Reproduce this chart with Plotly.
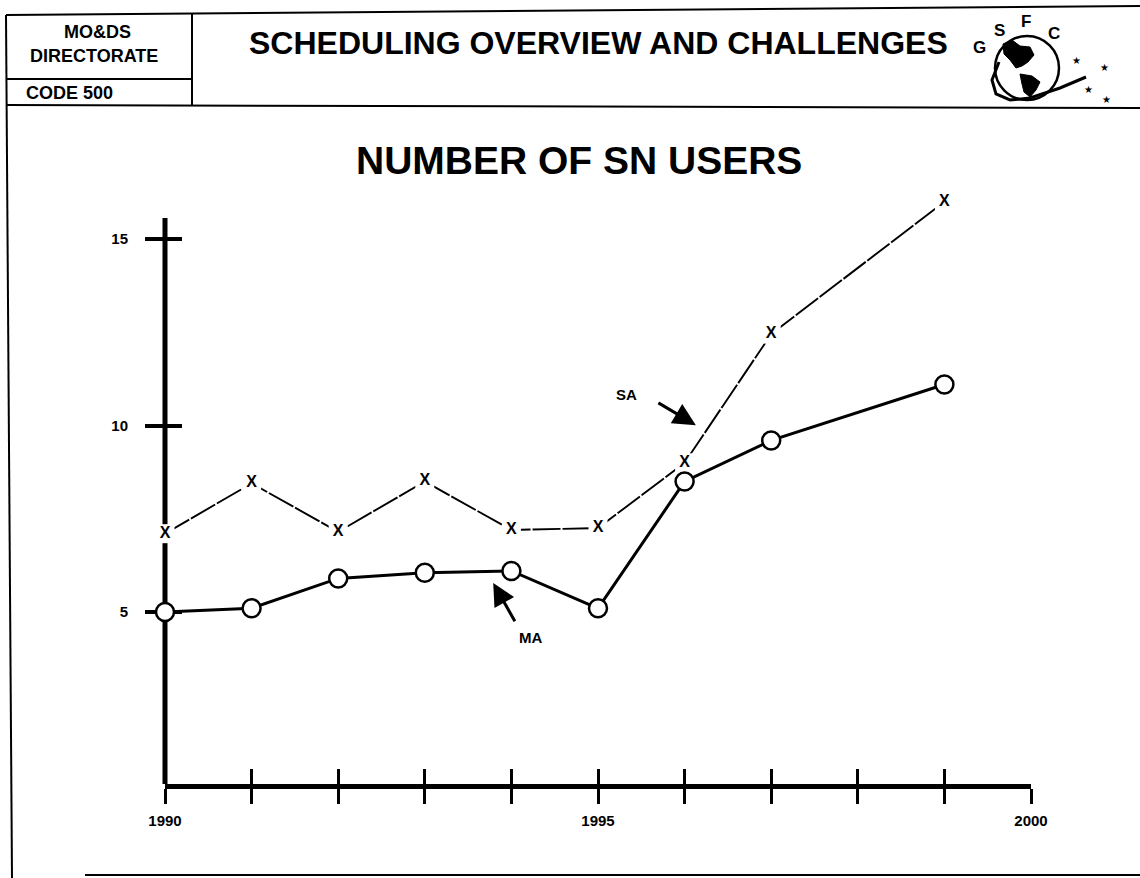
import plotly.graph_objects as go

# ---------------- data ----------------
ma_years = [1990, 1991, 1992, 1993, 1994, 1995, 1996, 1997, 1999]
ma_users = [5.0, 5.1, 5.9, 6.05, 6.1, 5.1, 8.5, 9.6, 11.1]
sa_years = [1990, 1991, 1992, 1993, 1994, 1995, 1996, 1997, 1999]
sa_users = [7.1, 8.45, 7.15, 8.5, 7.2, 7.25, 9.0, 12.45, 16.0]
x_tickvals = [1990, 1991, 1992, 1993, 1994, 1995, 1996, 1997, 1998, 1999, 2000]
x_ticktext = ["1990", "", "", "", "", "1995", "", "", "", "", "2000"]
y_tickvals = [5, 10, 15]
y_ticktext = ["5", "10", "15"]
y_axis_top = 15.563   # where the drawn vertical axis stops

FONT = "Liberation Sans, Arial, Helvetica, sans-serif"
W, H = 1140, 878
L, R, T, B = 165, 1031, 190, 784
PW, PH = R - L, B - T
Y_RANGE = [0.389, 16.314]
X_RANGE = [1990, 2000]


def px(x):
    return (x - L) / PW


def py(y):
    return (B - y) / PH


fig = go.Figure()

# SA dashed line
fig.add_trace(go.Scatter(x=sa_years, y=sa_users, mode="lines",
                         line=dict(color="black", width=1.9, dash="28px,2px"),
                         cliponaxis=False, hoverinfo="skip", showlegend=False))
# white gaps around the X marks
fig.add_trace(go.Scatter(x=sa_years, y=sa_users, mode="markers",
                         marker=dict(symbol="square", size=19, color="white", line=dict(width=0)),
                         cliponaxis=False, hoverinfo="skip", showlegend=False))
# MA solid line with open circles
fig.add_trace(go.Scatter(x=ma_years, y=ma_users, mode="lines+markers",
                         line=dict(color="black", width=3),
                         marker=dict(symbol="circle", size=18, color="white",
                                     line=dict(color="black", width=2.5)),
                         cliponaxis=False, hoverinfo="skip", showlegend=False))
# SA X marks
fig.add_trace(go.Scatter(x=sa_years, y=sa_users, mode="text", text=["X"] * len(sa_years),
                         textposition="middle center",
                         textfont=dict(family=FONT, size=16, color="black", weight="bold"),
                         cliponaxis=False, hoverinfo="skip", showlegend=False))
# empty traces so the overlay axes (inner half of the crossing ticks) get drawn
fig.add_trace(go.Scatter(x=[None], y=[None], xaxis="x2", yaxis="y", hoverinfo="skip",
                         showlegend=False))
fig.add_trace(go.Scatter(x=[None], y=[None], xaxis="x", yaxis="y2", hoverinfo="skip",
                         showlegend=False))

axis_common = dict(showgrid=False, zeroline=False, layer="below traces")
fig.update_layout(
    width=W, height=H,
    margin=dict(l=L, r=W - R, t=T, b=H - B, pad=0),
    paper_bgcolor="white", plot_bgcolor="white",
    showlegend=False,
    xaxis=dict(range=X_RANGE, showline=True, linewidth=5, linecolor="black",
               ticks="outside", ticklen=15, tickwidth=3, tickcolor="black",
               tickvals=x_tickvals, ticktext=x_ticktext, ticklabelstandoff=4,
               tickfont=dict(family=FONT, size=15, color="black", weight="bold"),
               **axis_common),
    xaxis2=dict(range=X_RANGE, overlaying="x", anchor="y", side="bottom",
                showline=False, ticks="inside", ticklen=15, tickwidth=3, tickcolor="black",
                tickvals=x_tickvals, showticklabels=False, **axis_common),
    yaxis=dict(range=Y_RANGE, showline=False,
               ticks="outside", ticklen=19, tickwidth=4, tickcolor="black",
               tickvals=y_tickvals, ticktext=y_ticktext, ticklabelstandoff=14,
               tickfont=dict(family=FONT, size=15, color="black", weight="bold"),
               **axis_common),
    yaxis2=dict(range=Y_RANGE, overlaying="y", anchor="x", side="left",
                showline=False, ticks="inside", ticklen=17, tickwidth=4, tickcolor="black",
                tickvals=y_tickvals, showticklabels=False, **axis_common),
)

ann = []
# SA / MA labels with arrows (data coordinates)
ann.append(dict(x=1995.33, y=10.84, xref="x", yref="y", text="SA", showarrow=False,
                font=dict(family=FONT, size=15, color="black", weight="bold")))
ann.append(dict(x=1996.13, y=10.01, ax=1995.68, ay=10.63, xref="x", yref="y",
                axref="x", ayref="y", text="", showarrow=True, arrowhead=2,
                arrowsize=1.5, arrowwidth=3, arrowcolor="black"))
ann.append(dict(x=1994.22, y=4.33, xref="x", yref="y", text="MA", showarrow=False,
                font=dict(family=FONT, size=15, color="black", weight="bold")))
ann.append(dict(x=1993.79, y=5.78, ax=1994.05, ay=4.71, xref="x", yref="y",
                axref="x", ayref="y", text="", showarrow=True, arrowhead=2,
                arrowsize=1.5, arrowwidth=3, arrowcolor="black"))


def ptext(x, y, text, size, xanchor="center"):
    return dict(x=px(x), y=py(y), xref="paper", yref="paper", text=text, showarrow=False,
                xanchor=xanchor, yanchor="middle",
                font=dict(family=FONT, size=size, color="black", weight="bold"))

ann.append(ptext(579, 161, "NUMBER OF SN USERS", 39))
ann.append(ptext(598, 43, "SCHEDULING OVERVIEW AND CHALLENGES", 32))
ann.append(ptext(97, 32, "MO&DS", 18))
ann.append(ptext(94, 56, "DIRECTORATE", 18))
ann.append(ptext(24, 93, "CODE 500", 18, xanchor="left"))
# logo letters and stars
for (lx, ly, t) in [(979, 47, "G"), (999, 31, "S"), (1026, 22, "F"), (1054, 33, "C")]:
    ann.append(ptext(lx, ly, t, 17))
for (sx, sy) in [(1083, 53), (1111, 60), (1095, 82), (1113, 92)]:
    ann.append(dict(x=px(sx), y=py(sy), xref="paper", yref="paper", text="★", showarrow=False,
                    font=dict(family="DejaVu Sans", size=10, color="black")))
fig.update_layout(annotations=ann)


def pline(x0, y0, x1, y1, w=2):
    return dict(type="line", xref="paper", yref="paper", x0=px(x0), y0=py(y0),
                x1=px(x1), y1=py(y1), line=dict(color="black", width=w))


def ppath(pts, fill=True, w=1):
    d = "M " + " L ".join(f"{px(a):.5f},{py(b):.5f}" for a, b in pts)
    if fill:
        d += " Z"
    return dict(type="path", xref="paper", yref="paper", path=d,
                fillcolor="black" if fill else None,
                line=dict(color="black", width=w))

shapes = [
    # vertical value axis, stopping at its top end (drawn below the data)
    dict(type="line", xref="paper", yref="y", x0=0, x1=0, y0=Y_RANGE[0], y1=y_axis_top,
         line=dict(color="black", width=5), layer="below"),
    pline(6, 15, 1140, 6),
    pline(6, 15, 12, 878),
    pline(192, 14, 192, 105),
    pline(6, 79, 192, 79),
    pline(6, 105, 1140, 108),
    pline(85, 875, 1140, 875),
    dict(type="circle", xref="paper", yref="paper", x0=px(995), x1=px(1059),
         y0=py(100), y1=py(36), line=dict(color="black", width=2.5)),
    ppath([(1003, 44), (1012, 40), (1020, 46), (1030, 47), (1034, 55), (1028, 62),
           (1022, 66), (1016, 68), (1010, 60), (1004, 54)]),
    ppath([(1020, 74), (1032, 76), (1040, 82), (1036, 90), (1030, 97), (1024, 92), (1022, 84)]),
    ppath([(999, 62), (992, 80), (996, 94), (1010, 100), (1030, 98), (1060, 88), (1086, 77)],
          fill=False, w=3),
]
fig.update_layout(shapes=shapes)

fig.write_html("out.html", config={"displayModeBar": False},
               post_script="document.body.style.margin='0';document.body.style.overflow='hidden';")
